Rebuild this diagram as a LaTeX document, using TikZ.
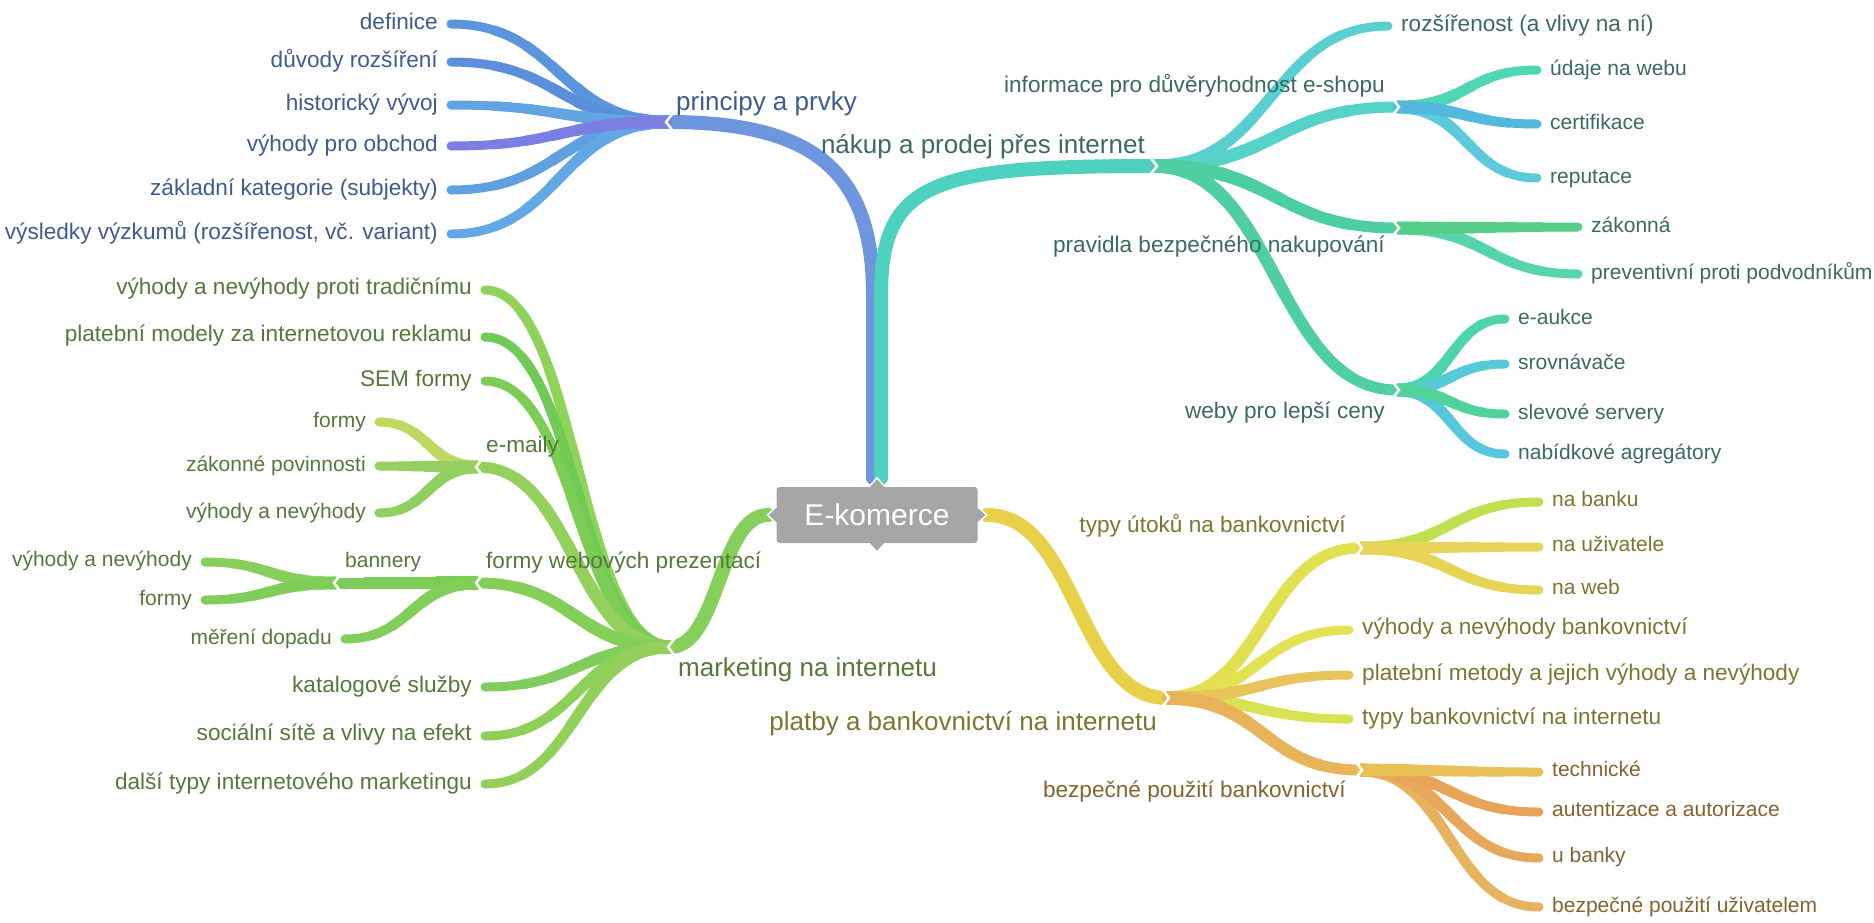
\documentclass[tikz,border=0pt]{standalone}
\usepackage{fontspec}
\setmainfont{Liberation Sans}
\usetikzlibrary{calc}
% text colours
\definecolor{tb}{HTML}{3E5C8E}
\definecolor{tt}{HTML}{3B6A62}
\definecolor{tg}{HTML}{56793A}
\definecolor{ty}{HTML}{7E7531}
\definecolor{to}{HTML}{86632E}
% branch colours
\definecolor{bmain}{HTML}{6E96DE}
\definecolor{bA}{HTML}{5B95DD}
\definecolor{bB}{HTML}{5B8FDC}
\definecolor{bC}{HTML}{62A4E2}
\definecolor{bD}{HTML}{7B7FE3}
\definecolor{bE}{HTML}{5FA0E0}
\definecolor{bF}{HTML}{62A8E6}
\definecolor{tmain}{HTML}{4FD1BF}
\definecolor{tA}{HTML}{5ACFCF}
\definecolor{tB}{HTML}{55D3C8}
\definecolor{tC}{HTML}{4FD6B4}
\definecolor{tD}{HTML}{52B8DC}
\definecolor{tE}{HTML}{5BCADB}
\definecolor{tF}{HTML}{4CCF9F}
\definecolor{tG}{HTML}{55CF88}
\definecolor{tH}{HTML}{55D4AD}
\definecolor{tI}{HTML}{4FCFA2}
\definecolor{tJ}{HTML}{4DD4AA}
\definecolor{tK}{HTML}{57CAD9}
\definecolor{tL}{HTML}{4FD39B}
\definecolor{tM}{HTML}{55C8DC}
\definecolor{gmain}{HTML}{86CF5A}
\definecolor{gA}{HTML}{8FD35A}
\definecolor{gB}{HTML}{6FCB55}
\definecolor{gC}{HTML}{7BCD55}
\definecolor{gD}{HTML}{94D05C}
\definecolor{gE}{HTML}{BFD860}
\definecolor{gF}{HTML}{96D060}
\definecolor{gG}{HTML}{90D060}
\definecolor{gH}{HTML}{84CF58}
\definecolor{gI}{HTML}{7CCD58}
\definecolor{gJ}{HTML}{86CF5A}
\definecolor{gK}{HTML}{7FCE58}
\definecolor{gL}{HTML}{80CF5A}
\definecolor{gM}{HTML}{7FCD5D}
\definecolor{gN}{HTML}{8DD058}
\definecolor{gO}{HTML}{92D05A}
\definecolor{ymain}{HTML}{E8D048}
\definecolor{yA}{HTML}{E0E050}
\definecolor{yB}{HTML}{C0E050}
\definecolor{yC}{HTML}{E8D458}
\definecolor{yD}{HTML}{E6D455}
\definecolor{yE}{HTML}{E2E252}
\definecolor{yF}{HTML}{E8C45A}
\definecolor{yG}{HTML}{D8E252}
\definecolor{yH}{HTML}{E8B45A}
\definecolor{yI}{HTML}{E8C055}
\definecolor{yJ}{HTML}{E8A55A}
\definecolor{yK}{HTML}{E8A85C}
\definecolor{yL}{HTML}{E8B35F}
\definecolor{boxgray}{HTML}{A6A6A6}

% plain connector (constant width)
\newcommand\conn[3]{\draw[#1] let \p1=(#2), \p2=(#3) in (\p1) .. controls ({(\x1+\x2)/2},\y1) and ({(\x1+\x2)/2},\y2) .. (\p2);}
% tapered connector: colour, from, to, narrow width, wide width (numbers, in pt)
\newcommand\tconn[5]{%
 \draw[line cap=round, line width=#4pt, draw=#1] let \p1=(#2), \p2=(#3) in (\p1) .. controls ({(\x1+\x2)/2},\y1) and ({(\x1+\x2)/2},\y2) .. (\p2);
 \foreach \tv in {0.85,0.7,0.55,0.4,0.25,0.1}{%
   \pgfmathsetmacro\wv{#4+(#5-#4)*(1-\tv)}%
   \draw[line width=\wv pt, draw=#1] let \p1=(#2), \p2=(#3), \n1={\x2-\x1}, \n2={\y2-\y1} in (\p1) .. controls ({\x1+\tv*\n1/2},\y1) and ({\x1+(2*\tv-\tv*\tv)*\n1/2},{\y1+\tv*\tv*\n2}) .. ({\x1+\n1*(1.5*\tv*(1-\tv)+\tv*\tv*\tv)},{\y1+\n2*(3*\tv*\tv-2*\tv*\tv*\tv)});
 }}
\newcommand\leafc[3]{\tconn{#1}{#2}{#3}{9}{13}}
\newcommand\subc[3]{\tconn{#1}{#2}{#3}{11}{14}}
\newcommand\notchR[1]{\draw[notchline] ([shift={(-5,-9)}]#1) -- ([shift={(2,0)}]#1) -- ([shift={(-5,9)}]#1);}
\newcommand\notchL[1]{\draw[notchline] ([shift={(5,-9)}]#1) -- ([shift={(-2,0)}]#1) -- ([shift={(5,9)}]#1);}

\begin{document}
\begin{tikzpicture}[x=1pt,y=-1pt,
  mainbr/.style={line width=14pt, line cap=round},
  notchline/.style={draw=white, line width=2.5pt},
  leaf/.style={inner sep=0pt, font=\fontsize{21}{24}\selectfont, text height=15pt, text depth=4pt},
  leafB/.style={inner sep=0pt, font=\fontsize{22.6}{26}\selectfont, text height=16pt, text depth=4.5pt},
  mainlbl/.style={inner sep=0pt, font=\fontsize{26}{30}\selectfont, text height=19pt, text depth=5pt},
  centerbox/.style={fill=boxgray, rounded corners=3pt, minimum width=201pt, minimum height=56pt, inner sep=0pt, text=white, font=\fontsize{30}{34}\selectfont}
]
\useasboundingbox (0,0) rectangle (1874,922);
\fill[white] (0,0) rectangle (1874,922);

% ---------- coordinates ----------
\coordinate (ctop) at (877,478);
\coordinate (cleft) at (768,515);
\coordinate (cright) at (987,515);
% blue
\coordinate (Bl) at (668,122);
\coordinate (b1) at (451,24);
\coordinate (b2) at (451,62);
\coordinate (b3) at (451,105);
\coordinate (b4) at (451,146);
\coordinate (b5) at (451,190);
\coordinate (b6) at (451,234);
% teal
\coordinate (J1) at (1155,166);
\coordinate (t1) at (1388,26);
\coordinate (I) at (1397,107);
\coordinate (i1) at (1537,70);
\coordinate (i2) at (1537,124);
\coordinate (i3) at (1537,178);
\coordinate (Pr) at (1397,228);
\coordinate (p1) at (1578,227);
\coordinate (p2) at (1578,274);
\coordinate (W) at (1397,390);
\coordinate (w1) at (1505,319);
\coordinate (w2) at (1505,364);
\coordinate (w3) at (1505,414);
\coordinate (w4) at (1505,454);
% green
\coordinate (M) at (670,647);
\coordinate (g1) at (485,290);
\coordinate (g2) at (485,337);
\coordinate (g3) at (485,381);
\coordinate (E) at (478,467);
\coordinate (e1) at (379,422);
\coordinate (e2) at (379,466);
\coordinate (e3) at (379,513);
\coordinate (F) at (478,583);
\coordinate (B) at (336,583);
\coordinate (ba1) at (205,562);
\coordinate (ba2) at (205,600);
\coordinate (me) at (345,639);
\coordinate (g5) at (485,687);
\coordinate (g6) at (485,736);
\coordinate (g7) at (485,784);
% yellow
\coordinate (P) at (1167,698);
\coordinate (T) at (1360,548);
\coordinate (ta1) at (1539,502);
\coordinate (ta2) at (1539,547);
\coordinate (ta3) at (1539,590);
\coordinate (y1) at (1349,630);
\coordinate (y2) at (1349,675);
\coordinate (y3) at (1349,719);
\coordinate (S) at (1360,770);
\coordinate (s1) at (1539,772);
\coordinate (s2) at (1539,812);
\coordinate (s3) at (1539,858);
\coordinate (s4) at (1539,907);

% ---------- blue branch ----------
\draw[mainbr, draw=bmain] ([xshift=-4pt]ctop) -- ++(0,-183) .. controls +(0,-120) and +(150,0) .. (Bl);
\leafc{bA}{Bl}{b1}
\leafc{bB}{Bl}{b2}
\leafc{bC}{Bl}{b3}
\leafc{bE}{Bl}{b5}
\leafc{bF}{Bl}{b6}
\leafc{bD}{Bl}{b4}
\notchL{Bl}

% ---------- teal branch ----------
\draw[mainbr, draw=tmain] ([xshift=4pt]ctop) -- ++(0,-183) .. controls +(0,-115) and +(-220,0) .. (J1);
\leafc{tA}{J1}{t1}
\subc{tB}{J1}{I}
\subc{tF}{J1}{Pr}
\subc{tI}{J1}{W}
\leafc{tC}{I}{i1}
\leafc{tE}{I}{i3}
\leafc{tD}{I}{i2}
\leafc{tH}{Pr}{p2}
\leafc{tG}{Pr}{p1}
\leafc{tJ}{W}{w1}
\leafc{tK}{W}{w2}
\leafc{tM}{W}{w4}
\leafc{tL}{W}{w3}
\notchR{J1}
\notchR{I}
\notchR{Pr}
\notchR{W}

% ---------- green branch ----------
\conn{mainbr, draw=gmain}{cleft}{M}
\leafc{gA}{M}{g1}
\leafc{gB}{M}{g2}
\leafc{gC}{M}{g3}
\subc{gD}{M}{E}
\subc{gH}{M}{F}
\leafc{gM}{M}{g5}
\leafc{gN}{M}{g6}
\leafc{gO}{M}{g7}
\leafc{gE}{E}{e1}
\leafc{gG}{E}{e3}
\leafc{gF}{E}{e2}
\subc{gI}{F}{B}
\leafc{gL}{F}{me}
\leafc{gJ}{B}{ba1}
\leafc{gK}{B}{ba2}
\notchL{M}
\notchL{E}
\notchL{F}
\notchL{B}

% ---------- yellow branch ----------
\conn{mainbr, draw=ymain}{cright}{P}
\subc{yA}{P}{T}
\leafc{yE}{P}{y1}
\leafc{yG}{P}{y3}
\leafc{yF}{P}{y2}
\subc{yH}{P}{S}
\leafc{yB}{T}{ta1}
\leafc{yD}{T}{ta3}
\leafc{yC}{T}{ta2}
\leafc{yL}{S}{s4}
\leafc{yK}{S}{s3}
\leafc{yJ}{S}{s2}
\leafc{yI}{S}{s1}
\notchR{P}
\notchR{T}
\notchR{S}

% ---------- centre ----------
\node[centerbox] (ek) at (877,515) {E-komerce};
\fill[boxgray, draw=white, line width=1.5pt] ([xshift=-8pt]ek.north) -- ([yshift=9pt]ek.north) -- ([xshift=8pt]ek.north);
\fill[boxgray, draw=white, line width=1.5pt] ([xshift=-8pt]ek.south) -- ([yshift=-9pt]ek.south) -- ([xshift=8pt]ek.south);
\fill[boxgray, draw=white, line width=1.5pt] ([yshift=8pt]ek.west) -- ([xshift=-9pt]ek.west) -- ([yshift=-8pt]ek.west);
\fill[boxgray, draw=white, line width=1.5pt] ([yshift=8pt]ek.east) -- ([xshift=9pt]ek.east) -- ([yshift=-8pt]ek.east);
\fill[boxgray] ([xshift=-8pt,yshift=-1pt]ek.north) -- ([xshift=8pt,yshift=-1pt]ek.north) -- ([yshift=7pt]ek.north) -- cycle;
\fill[boxgray] ([xshift=-8pt,yshift=1pt]ek.south) -- ([xshift=8pt,yshift=1pt]ek.south) -- ([yshift=-7pt]ek.south) -- cycle;
\fill[boxgray] ([xshift=1pt,yshift=8pt]ek.west) -- ([xshift=1pt,yshift=-8pt]ek.west) -- ([xshift=-7pt]ek.west) -- cycle;
\fill[boxgray] ([xshift=-1pt,yshift=8pt]ek.east) -- ([xshift=-1pt,yshift=-8pt]ek.east) -- ([xshift=7pt]ek.east) -- cycle;

% ---------- labels: blue ----------
\node[mainlbl, text=tb, anchor=west] (lBl) at (676,103) {principy a prvky};
\node[leafB, text=tb, anchor=east] (lb1) at (438,24) {definice};
\node[leafB, text=tb, anchor=east] (lb2) at (438,62) {důvody rozšíření};
\node[leafB, text=tb, anchor=east] (lb3) at (438,105) {historický vývoj};
\node[leafB, text=tb, anchor=east] (lb4) at (438,146) {výhody pro obchod};
\node[leafB, text=tb, anchor=east] (lb5) at (438,190) {základní kategorie (subjekty)};
\node[leafB, text=tb, anchor=east] (lb6) at (438,234) {výsledky výzkumů (rozšířenost, vč. variant)};

% ---------- labels: teal ----------
\node[mainlbl, text=tt, anchor=east] (lJ1) at (1145,146) {nákup a prodej přes internet};
\node[leafB, text=tt, anchor=west] (lt1) at (1401,26) {rozšířenost (a vlivy na ní)};
\node[leafB, text=tt, anchor=east] (lI) at (1385,87) {informace pro důvěryhodnost e-shopu};
\node[leaf, text=tt, anchor=west] (li1) at (1550,70) {údaje na webu};
\node[leaf, text=tt, anchor=west] (li2) at (1550,124) {certifikace};
\node[leaf, text=tt, anchor=west] (li3) at (1550,178) {reputace};
\node[leafB, text=tt, anchor=east] (lPr) at (1385,247) {pravidla bezpečného nakupování};
\node[leaf, text=tt, anchor=west] (lp1) at (1591,227) {zákonná};
\node[leaf, text=tt, anchor=west] (lp2) at (1591,274) {preventivní proti podvodníkům};
\node[leafB, text=tt, anchor=east] (lW) at (1385,413) {weby pro lepší ceny};
\node[leaf, text=tt, anchor=west] (lw1) at (1518,319) {e-aukce};
\node[leaf, text=tt, anchor=west] (lw2) at (1518,364) {srovnávače};
\node[leaf, text=tt, anchor=west] (lw3) at (1518,414) {slevové servery};
\node[leaf, text=tt, anchor=west] (lw4) at (1518,454) {nabídkové agregátory};

% ---------- labels: green ----------
\node[mainlbl, text=tg, anchor=west] (lM) at (678,669) {marketing na internetu};
\node[leafB, text=tg, anchor=east] (lg1) at (472,289) {výhody a nevýhody proti tradičnímu};
\node[leafB, text=tg, anchor=east] (lg2) at (472,336) {platební modely za internetovou reklamu};
\node[leafB, text=tg, anchor=east] (lg3) at (472,381) {SEM formy};
\node[leafB, text=tg, anchor=west] (lE) at (486,447) {e-maily};
\node[leaf, text=tg, anchor=east] (le1) at (366,422) {formy};
\node[leaf, text=tg, anchor=east] (le2) at (366,466) {zákonné povinnosti};
\node[leaf, text=tg, anchor=east] (le3) at (366,513) {výhody a nevýhody};
\node[leafB, text=tg, anchor=west] (lF) at (486,563) {formy webových prezentací};
\node[leaf, text=tg, anchor=west] (lB) at (345,562) {bannery};
\node[leaf, text=tg, anchor=east] (lba1) at (192,561) {výhody a nevýhody};
\node[leaf, text=tg, anchor=east] (lba2) at (192,600) {formy};
\node[leaf, text=tg, anchor=east] (lme) at (332,639) {měření dopadu};
\node[leafB, text=tg, anchor=east] (lg5) at (472,687) {katalogové služby};
\node[leafB, text=tg, anchor=east] (lg6) at (472,735) {sociální sítě a vlivy na efekt};
\node[leafB, text=tg, anchor=east] (lg7) at (472,784) {další typy internetového marketingu};

% ---------- labels: yellow ----------
\node[mainlbl, text=ty, anchor=east] (lP) at (1157,723) {platby a bankovnictví na internetu};
\node[leafB, text=ty, anchor=east] (lT) at (1346,527) {typy útoků na bankovnictví};
\node[leaf, text=ty, anchor=west] (lta1) at (1552,501) {na banku};
\node[leaf, text=ty, anchor=west] (lta2) at (1552,546) {na uživatele};
\node[leaf, text=ty, anchor=west] (lta3) at (1552,589) {na web};
\node[leafB, text=ty, anchor=west] (ly1) at (1362,629) {výhody a nevýhody bankovnictví};
\node[leafB, text=ty, anchor=west] (ly2) at (1362,675) {platební metody a jejich výhody a nevýhody};
\node[leafB, text=ty, anchor=west] (ly3) at (1362,719) {typy bankovnictví na internetu};
\node[leafB, text=to, anchor=east] (lS) at (1346,792) {bezpečné použití bankovnictví};
\node[leaf, text=to, anchor=west] (ls1) at (1552,771) {technické};
\node[leaf, text=to, anchor=west] (ls2) at (1552,811) {autentizace a autorizace};
\node[leaf, text=to, anchor=west] (ls3) at (1552,857) {u banky};
\node[leaf, text=to, anchor=west] (ls4) at (1552,907) {bezpečné použití uživatelem};
\end{tikzpicture}
\end{document}
